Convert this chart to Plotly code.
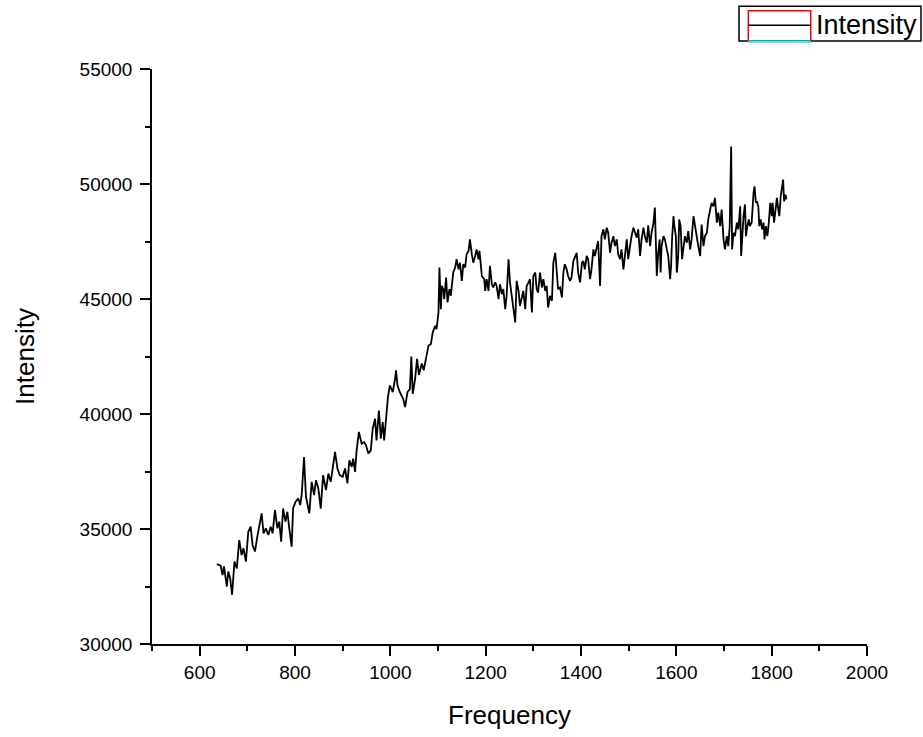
import plotly.graph_objects as go

points = [
    (636, 33470), (640, 33450), (644, 33410), (648, 33000), (651, 33370), (657, 32500), (660, 33150),
    (664, 32860), (668, 32140), (673, 33580), (678, 33290), (683, 34520), (688, 33870), (692, 34160),
    (697, 33580), (702, 34880), (707, 35100), (711, 34300), (716, 34020), (721, 34670), (725, 35100),
    (730, 35680), (734, 34810), (739, 35030), (744, 34740), (749, 35100), (753, 34810), (758, 35820),
    (763, 35030), (767, 35320), (771, 34450), (775, 35890), (780, 35320), (784, 35750), (788, 35030),
    (793, 34230), (796, 35890), (801, 36180), (807, 36330), (811, 36040), (814, 36470), (819, 38130),
    (823, 36400), (830, 35680), (835, 37050), (840, 36470), (844, 37120), (849, 36760), (854, 35890),
    (859, 37340), (865, 36690), (870, 37410), (875, 37050), (879, 37700), (884, 38350), (889, 37630),
    (894, 37340), (900, 37270), (905, 37630), (910, 36980), (914, 37990), (919, 37700), (922, 38060),
    (926, 37480), (929, 38350), (934, 39220), (940, 38710), (945, 38780), (949, 38640), (954, 38280),
    (959, 38420), (963, 39360), (968, 39790), (971, 38850), (976, 40150), (980, 38930), (984, 39650),
    (987, 38850), (991, 39940), (995, 40730), (999, 41240), (1005, 40950), (1010, 41530), (1012, 41900),
    (1015, 41240), (1020, 40950), (1027, 40660), (1031, 40300), (1036, 40950), (1041, 41090), (1044, 42500),
    (1047, 40880), (1052, 41530), (1056, 42400), (1060, 41700), (1066, 42200), (1070, 41900), (1075, 42390),
    (1080, 42970), (1085, 43040), (1089, 43550), (1094, 43840), (1097, 43690), (1101, 44420), (1103, 46370),
    (1106, 44560), (1108, 45570), (1111, 45430), (1113, 44990), (1117, 45930), (1120, 44850), (1124, 45430),
    (1127, 45140), (1129, 45570), (1132, 46150), (1136, 46370), (1139, 46730), (1143, 46290), (1146, 46580),
    (1150, 45790), (1153, 46510), (1157, 46370), (1160, 46940), (1164, 47090), (1167, 47590), (1171, 46940),
    (1174, 46580), (1178, 46870), (1181, 47160), (1185, 46730), (1187, 47090), (1190, 46440), (1192, 46000),
    (1197, 45860), (1199, 45350), (1202, 45860), (1206, 45350), (1209, 46440), (1213, 45640), (1216, 45500),
    (1220, 45720), (1223, 45570), (1227, 44990), (1230, 45640), (1234, 45210), (1237, 45430), (1241, 44560),
    (1244, 45140), (1248, 46730), (1251, 45720), (1255, 45140), (1258, 44560), (1262, 43980), (1265, 45790),
    (1269, 45350), (1272, 44700), (1276, 45140), (1279, 45350), (1283, 44560), (1286, 45570), (1290, 45720),
    (1293, 45860), (1297, 44420), (1300, 46000), (1304, 46150), (1307, 45430), (1310, 45280), (1314, 46150),
    (1318, 45500), (1321, 45860), (1325, 45350), (1328, 45570), (1331, 44630), (1335, 45140), (1339, 44920),
    (1342, 46580), (1346, 47010), (1349, 46150), (1352, 45430), (1356, 45500), (1360, 45070), (1363, 46150),
    (1366, 46510), (1370, 46290), (1373, 46000), (1377, 45790), (1380, 45930), (1384, 46650), (1387, 46800),
    (1391, 47010), (1394, 46150), (1398, 45720), (1402, 46580), (1405, 46650), (1408, 46290), (1412, 46870),
    (1415, 46730), (1419, 45860), (1422, 46290), (1426, 47160), (1429, 46870), (1433, 47300), (1436, 47520),
    (1440, 45570), (1443, 47730), (1447, 48030), (1450, 47590), (1454, 48100), (1457, 47880), (1461, 47010),
    (1464, 47450), (1468, 47730), (1471, 47300), (1475, 47590), (1478, 46940), (1482, 46730), (1485, 47160),
    (1489, 46290), (1492, 46800), (1496, 47590), (1499, 46730), (1503, 47450), (1506, 47730), (1510, 48100),
    (1513, 47880), (1517, 47660), (1520, 48030), (1524, 46870), (1527, 47590), (1531, 48100), (1534, 47730),
    (1538, 47450), (1541, 48200), (1545, 47300), (1548, 47880), (1552, 48300), (1555, 48980), (1557, 47450),
    (1559, 46000), (1562, 47010), (1565, 47590), (1567, 46150), (1569, 47300), (1573, 47730), (1576, 47590),
    (1580, 47160), (1583, 46870), (1587, 45860), (1589, 46440), (1591, 47590), (1594, 48600), (1596, 48170),
    (1599, 47730), (1601, 46150), (1604, 46870), (1606, 48460), (1609, 48170), (1612, 46730), (1615, 47300),
    (1618, 47730), (1622, 47450), (1625, 47950), (1629, 47160), (1632, 47590), (1636, 48600), (1639, 48170),
    (1643, 47590), (1646, 47300), (1650, 46870), (1653, 48240), (1657, 47300), (1660, 47730), (1664, 47880),
    (1667, 48460), (1671, 48890), (1674, 49180), (1678, 49030), (1681, 49400), (1685, 48320), (1688, 48750),
    (1692, 48170), (1695, 48890), (1699, 47590), (1702, 47160), (1706, 47730), (1709, 47300), (1712, 48170),
    (1715, 51630), (1717, 47160), (1720, 47880), (1723, 47730), (1727, 48320), (1730, 48030), (1734, 49030),
    (1736, 46870), (1738, 47590), (1741, 48600), (1744, 49110), (1746, 47730), (1749, 48170), (1752, 48460),
    (1754, 48170), (1758, 48320), (1762, 49620), (1764, 49900), (1767, 49180), (1769, 49250), (1772, 49030),
    (1774, 48170), (1777, 48460), (1780, 48030), (1783, 48320), (1785, 47590), (1788, 48170), (1791, 47730),
    (1794, 48320), (1797, 49180), (1800, 48600), (1802, 49180), (1805, 48320), (1808, 48890), (1811, 49400),
    (1813, 49030), (1816, 48600), (1819, 49470), (1822, 49900), (1824, 50190), (1826, 49250), (1829, 49540),
    (1831, 49330),
]
frequency = [p[0] for p in points]
intensity = [p[1] for p in points]

x_ticks = [600, 800, 1000, 1200, 1400, 1600, 1800, 2000]
y_ticks = [30000, 35000, 40000, 45000, 50000, 55000]

FONT = "Arial, 'Liberation Sans', sans-serif"

fig = go.Figure()
fig.add_trace(go.Scatter(
    x=frequency, y=intensity, mode="lines", name="Intensity",
    line=dict(color="black", width=1.8), showlegend=False,
))

axis_common = dict(
    showline=True, linecolor="black", linewidth=1.5, showgrid=False, zeroline=False,
    ticks="outside", ticklen=10, tickwidth=1.5, tickcolor="black",
    tickfont=dict(family=FONT, size=19, color="black"),
)

fig.update_xaxes(
    range=[500, 2000], tickvals=x_ticks, ticktext=[str(v) for v in x_ticks],
    minor=dict(ticks="outside", ticklen=5, tickwidth=1.5, tickcolor="black", dtick=100, tick0=500),
    title=dict(text="Frequency", font=dict(family=FONT, size=26, color="black"), standoff=24),
    **axis_common,
)
fig.update_yaxes(
    range=[30000, 55000], tickvals=y_ticks, ticktext=[str(v) for v in y_ticks],
    minor=dict(ticks="outside", ticklen=5, tickwidth=1.5, tickcolor="black", dtick=2500, tick0=30000),
    ticklabelstandoff=4,
    title=dict(text="Intensity", font=dict(family=FONT, size=26, color="black"), standoff=38),
    **axis_common,
)

# Legend drawn in Origin style
shapes = [
    dict(type="rect", xref="paper", yref="paper", x0=0.821, x1=1.0755, y0=1.0485, y1=1.1092,
         line=dict(color="black", width=1.5), fillcolor="white", layer="above"),
    dict(type="rect", xref="paper", yref="paper", x0=0.834, x1=0.9213, y0=1.0477, y1=1.1011,
         line=dict(color="red", width=1.5), layer="above"),
    dict(type="line", xref="paper", yref="paper", x0=0.834, x1=0.9213, y0=1.0763, y1=1.0763,
         line=dict(color="black", width=1.5), layer="above"),
    dict(type="line", xref="paper", yref="paper", x0=0.834, x1=0.9213, y0=1.0477, y1=1.0477,
         line=dict(color="cyan", width=2), layer="above"),
]
fig.update_layout(
    width=923, height=737,
    margin=dict(l=152, r=56, t=69, b=91),
    paper_bgcolor="white", plot_bgcolor="white",
    shapes=shapes,
    annotations=[dict(text="Intensity", xref="paper", yref="paper", x=0.9265, y=1.0763,
                      xanchor="left", yanchor="middle", showarrow=False,
                      font=dict(family=FONT, size=27, color="black"))],
    showlegend=False,
)

fig.write_html("out.html")
